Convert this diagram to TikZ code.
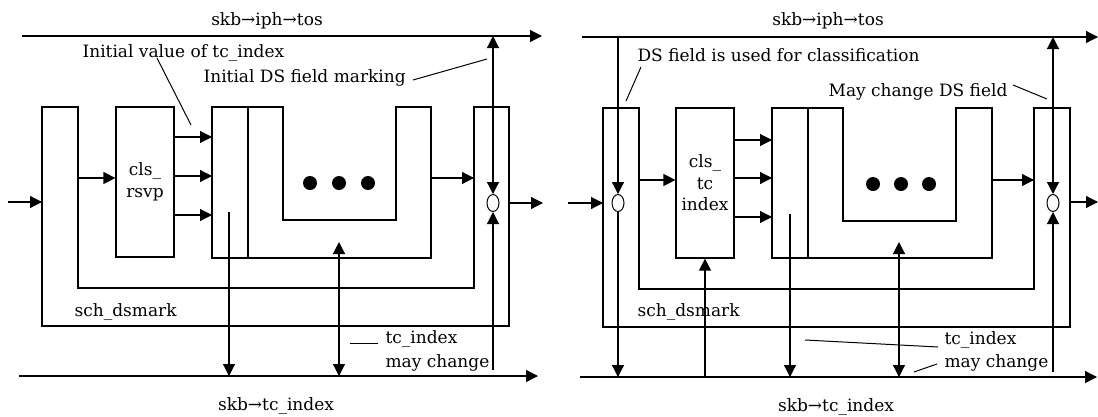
\documentclass[tikz,border=0pt]{standalone}
\usepackage{fontspec}
\setmainfont{DejaVu Serif}
\usetikzlibrary{arrows.meta,shapes.geometric}
\begin{document}
\begin{tikzpicture}[x=1pt,y=-1pt, line width=1.2pt,
  arr/.style={-{Triangle[length=12pt,width=12pt]}},
  darr/.style={{Triangle[length=12pt,width=12pt]}-{Triangle[length=12pt,width=12pt]}},
  lbl/.style={font=\fontsize{17}{19}\selectfont, inner sep=0pt, anchor=base west},
  clsbox/.style={draw, inner sep=0pt, minimum width=58pt, minimum height=150pt, align=center,
    font=\fontsize{17}{21.5}\selectfont},
  valve/.style={draw, ellipse, minimum width=12pt, minimum height=17pt, inner sep=0pt, line width=1pt},
  bigdot/.style={circle, fill, minimum size=14pt, inner sep=0pt},
  lead/.style={line width=1pt}]
\useasboundingbox (0,0) rectangle (1098,416);

% ================= LEFT =================
\coordinate (LTs) at (22,36);  \coordinate (LTe) at (542,36);
\coordinate (LBs) at (19,376); \coordinate (LBe) at (538,376);
\draw[arr] (LTs) -- (LTe);
\draw[arr] (LBs) -- (LBe);
% sch_dsmark U
\draw (42,107) -- (42,326) -- (509,326) -- (509,107) -- (474,107) -- (474,288) -- (78,288) -- (78,107) -- cycle;
% cls_rsvp
\node[clsbox] (rsvp) at (145,182) {cls\_\\rsvp};
% queue U
\draw (212,107) -- (283,107) -- (283,220) -- (396,220) -- (396,107) -- (431,107) -- (431,258) -- (212,258) -- cycle;
\draw[line width=1.6pt] (248,107) -- (248,258);
\node[bigdot] (Ldot1) at (310,183) {};
\node[bigdot] (Ldot2) at (339,183) {};
\node[bigdot] (Ldot3) at (368,183) {};
\node[valve] (vL) at (493,203) {};
% connectors
\coordinate (Lin) at (8,202);  \coordinate (LschL) at (42,202);
\draw[arr] (Lin) -- (LschL);
\coordinate (La1) at (78,178);
\draw[arr] (La1) -- (rsvp.west |- La1);
\coordinate (Lq1) at (212,137); \coordinate (Lq2) at (212,176); \coordinate (Lq3) at (212,215);
\draw[arr] (rsvp.east |- Lq1) -- (Lq1);
\draw[arr] (rsvp.east |- Lq2) -- (Lq2);
\draw[arr] (rsvp.east |- Lq3) -- (Lq3);
\coordinate (Lq4) at (431,178); \coordinate (Lr1) at (474,178);
\draw[arr] (Lq4) -- (Lr1);
\coordinate (LschR) at (509,203); \coordinate (Lout) at (543,203);
\draw[arr] (LschR) -- (Lout);
\draw[darr] (vL.north) -- (vL.north |- LTs);
\coordinate (Lv2) at (493,370);
\draw[arr] (Lv2) -- (vL.south);
\coordinate (Lm1) at (339,242);
\draw[darr] (Lm1) -- (Lm1 |- LBs);
\coordinate (Ld1) at (229,212);
\draw[arr] (Ld1) -- (Ld1 |- LBs);
% labels
\node[lbl, anchor=base] (Ltop) at (267,25) {skb→iph→tos};
\node[lbl] (Linit) at (82,57) {Initial value of tc\_index};
\node[lbl] (Lds) at (203,82) {Initial DS field marking};
\coordinate (Lla) at (157,58); \coordinate (Llb) at (191,125);
\draw[lead] (Lla) -- (Llb);
\coordinate (Llc) at (413,80); \coordinate (Lld) at (487,59);
\draw[lead] (Llc) -- (Lld);
\node[lbl] (Lsch) at (74,316) {sch\_dsmark};
\node[lbl] (Ltc) at (385,343) {tc\_index};
\node[lbl] (Lmay) at (385,367) {may change};
\coordinate (Lle) at (350,343); \coordinate (Llf) at (378,343);
\draw[lead] (Lle) -- (Llf);
\node[lbl, anchor=base] (Lbot) at (276,410) {skb→tc\_index};

% ================= RIGHT =================
\coordinate (RTs) at (582,37);  \coordinate (RTe) at (1098,37);
\coordinate (RBs) at (580,377); \coordinate (RBe) at (1097,377);
\draw[arr] (RTs) -- (RTe);
\draw[arr] (RBs) -- (RBe);
\draw (603,108) -- (603,327) -- (1070,327) -- (1070,108) -- (1034,108) -- (1034,289) -- (639,289) -- (639,108) -- cycle;
\node[clsbox] (tcidx) at (705,183) {cls\_\\tc\\index};
\draw (772,108) -- (843,108) -- (843,221) -- (956,221) -- (956,108) -- (992,108) -- (992,258) -- (772,258) -- cycle;
\draw[line width=1.3pt] (808,108) -- (808,258);
\node[bigdot] (Rdot1) at (873,184) {};
\node[bigdot] (Rdot2) at (901,184) {};
\node[bigdot] (Rdot3) at (929,184) {};
\node[valve] (vRL) at (618,203) {};
\node[valve] (vRR) at (1053,203) {};
% connectors
\coordinate (Rin) at (568,203); \coordinate (RschL) at (603,203);
\draw[arr] (Rin) -- (RschL);
\draw[arr] (vRL.north |- RTs) -- (vRL.north);
\draw[arr] (vRL.south) -- (vRL.south |- RBs);
\coordinate (Ra1) at (639,180);
\draw[arr] (Ra1) -- (tcidx.west |- Ra1);
\coordinate (Rq1) at (772,140); \coordinate (Rq2) at (772,178); \coordinate (Rq3) at (772,217);
\draw[arr] (tcidx.east |- Rq1) -- (Rq1);
\draw[arr] (tcidx.east |- Rq2) -- (Rq2);
\draw[arr] (tcidx.east |- Rq3) -- (Rq3);
\draw[arr] (tcidx.south |- RBs) -- (tcidx.south);
\coordinate (Rd1) at (790,214);
\draw[arr] (Rd1) -- (Rd1 |- RBs);
\coordinate (Rm1) at (899,242);
\draw[darr] (Rm1) -- (Rm1 |- RBs);
\coordinate (Rq4) at (992,180); \coordinate (Rr1) at (1034,180);
\draw[arr] (Rq4) -- (Rr1);
\draw[darr] (vRR.north) -- (vRR.north |- RTs);
\coordinate (Rv2) at (1053,372);
\draw[arr] (Rv2) -- (vRR.south);
\coordinate (RschR) at (1070,202); \coordinate (Rout) at (1098,202);
\draw[arr] (RschR) -- (Rout);
% labels
\node[lbl, anchor=base] (Rtop) at (828,25) {skb→iph→tos};
\node[lbl] (Rds) at (637,61) {DS field is used for classification};
\coordinate (Rla) at (641,67); \coordinate (Rlb) at (626,101);
\draw[lead] (Rla) -- (Rlb);
\node[lbl] (Rmayds) at (828,96) {May change DS field};
\coordinate (Rlc) at (1013,85); \coordinate (Rld) at (1047,99);
\draw[lead] (Rlc) -- (Rld);
\node[lbl] (Rsch) at (637,316) {sch\_dsmark};
\node[lbl] (Rtc) at (944,344) {tc\_index};
\node[lbl] (Rmay) at (944,367) {may change};
\coordinate (Rle) at (805,340); \coordinate (Rlf) at (938,347);
\draw[lead] (Rle) -- (Rlf);
\coordinate (Rlg) at (914,372); \coordinate (Rlh) at (937,364);
\draw[lead] (Rlg) -- (Rlh);
\node[lbl, anchor=base] (Rbot) at (836,411) {skb→tc\_index};
\end{tikzpicture}
\end{document}
